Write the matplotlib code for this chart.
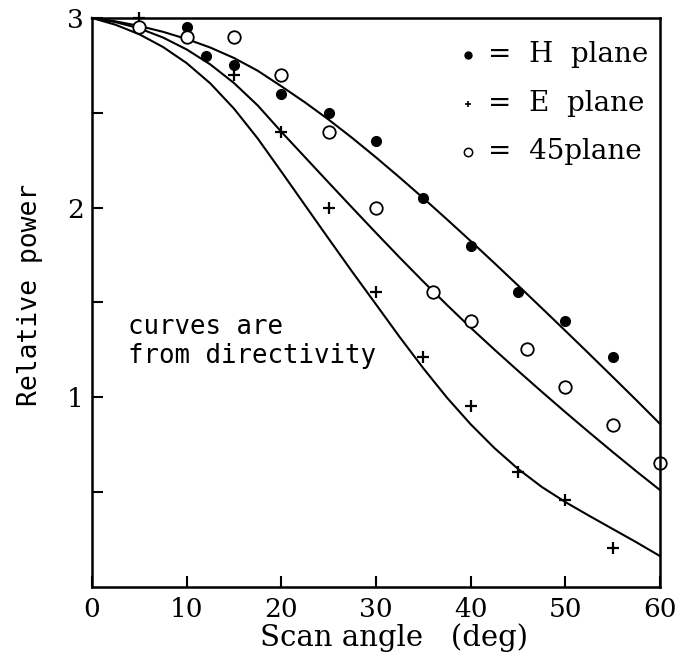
import matplotlib
matplotlib.use("Agg")
import matplotlib.pyplot as plt

# measured points
h_x = [10, 12, 15, 20, 25, 30, 35, 40, 45, 50, 55]
h_y = [2.95, 2.80, 2.75, 2.60, 2.50, 2.35, 2.05, 1.80, 1.555, 1.40, 1.21]

e_x = [5, 10, 15, 20, 25, 30, 35, 40, 45, 50, 55]
e_y = [3.0, 2.90, 2.70, 2.40, 2.00, 1.555, 1.21, 0.955, 0.606, 0.459, 0.205]

d45_x = [5, 10, 15, 20, 25, 30, 36, 40, 46, 50, 55, 60]
d45_y = [2.95, 2.90, 2.90, 2.70, 2.40, 2.00, 1.555, 1.40, 1.255, 1.054, 0.854, 0.654]

# directivity curves (read every 2.5 deg)
curve_x = [0, 2.5, 5, 7.5, 10, 12.5, 15, 17.5, 20, 22.5, 25, 27.5, 30,
           32.5, 35, 37.5, 40, 42.5, 45, 47.5, 50, 52.5, 55, 57.5, 60]
curve_h = [3.0, 2.982, 2.958, 2.927, 2.889, 2.844, 2.789, 2.722, 2.64, 2.555, 2.464, 2.367, 2.265,
           2.159, 2.05, 1.938, 1.824, 1.708, 1.59, 1.471, 1.351, 1.23, 1.108, 0.985, 0.86]
curve_45 = [3.0, 2.978, 2.945, 2.897, 2.834, 2.755, 2.657, 2.539, 2.40, 2.266, 2.132, 1.999, 1.867,
            1.737, 1.61, 1.487, 1.367, 1.252, 1.14, 1.03, 0.922, 0.816, 0.712, 0.61, 0.511]
curve_e = [3.0, 2.964, 2.914, 2.847, 2.762, 2.655, 2.522, 2.365, 2.19, 2.013, 1.836, 1.661, 1.49,
           1.318, 1.153, 0.998, 0.858, 0.733, 0.623, 0.528, 0.448, 0.376, 0.306, 0.236, 0.163]

x_ticks = [0, 10, 20, 30, 40, 50, 60]
y_major = [1, 2, 3]
y_minor = [0.5, 1.5, 2.5]

legend_labels = ["=  H  plane", "=  E  plane", "=  45plane"]
note_text = "curves are\nfrom directivity"

fig = plt.figure(figsize=(6.83, 6.56), dpi=100)
ax = fig.add_axes([0.1347, 0.1052, 0.8316, 0.8674])

for cy in (curve_h, curve_45, curve_e):
    ax.plot(curve_x, cy, color="black", lw=1.5, clip_on=False, solid_joinstyle="round")

ax.plot(h_x, h_y, "o", color="black", ms=7, clip_on=False)
ax.plot(e_x, e_y, "+", color="black", ms=8, mew=1.6, clip_on=False)
ax.plot(d45_x, d45_y, "o", mfc="white", mec="black", ms=9, mew=1.3, clip_on=False)

ax.set_xlim(0, 60)
ax.set_ylim(0, 3)
ax.set_xticks(x_ticks)
ax.set_xticklabels([str(t) for t in x_ticks])
ax.set_yticks(y_major)
ax.set_yticklabels([str(t) for t in y_major])
ax.set_yticks(y_minor, minor=True)
ax.tick_params(axis="both", which="both", direction="in", length=8, width=1.5,
               labelsize=19, pad=6)
ax.tick_params(axis="x", pad=7)
for lab in ax.get_xticklabels() + ax.get_yticklabels():
    lab.set_family("DejaVu Serif")
for s in ax.spines.values():
    s.set_linewidth(1.8)

ax.set_xlabel("Scan angle   (deg)", family="DejaVu Serif", fontsize=21)
ax.xaxis.set_label_coords(0.531, -0.064)
ax.set_ylabel("Relative power", family="DejaVu Sans Mono", fontsize=19)
ax.yaxis.set_label_coords(-0.086, 0.513)

# legend
leg_y = [0.935, 0.849, 0.765]
ax.plot([0.662], [leg_y[0]], "o", color="black", ms=5, transform=ax.transAxes)
ax.plot([0.662], [leg_y[1]], "+", color="black", ms=5, mew=1.2, transform=ax.transAxes)
ax.plot([0.662], [leg_y[2]], "o", mfc="white", mec="black", ms=6, mew=1.1, transform=ax.transAxes)
for yy, lab in zip(leg_y, legend_labels):
    ax.text(0.698, yy, lab, transform=ax.transAxes, family="DejaVu Serif",
            fontsize=20, va="center", ha="left")

ax.text(0.064, 0.432, note_text, transform=ax.transAxes, family="DejaVu Sans Mono",
        fontsize=18.5, va="center", ha="left", linespacing=1.15)

fig.savefig("out.png", dpi=100)
